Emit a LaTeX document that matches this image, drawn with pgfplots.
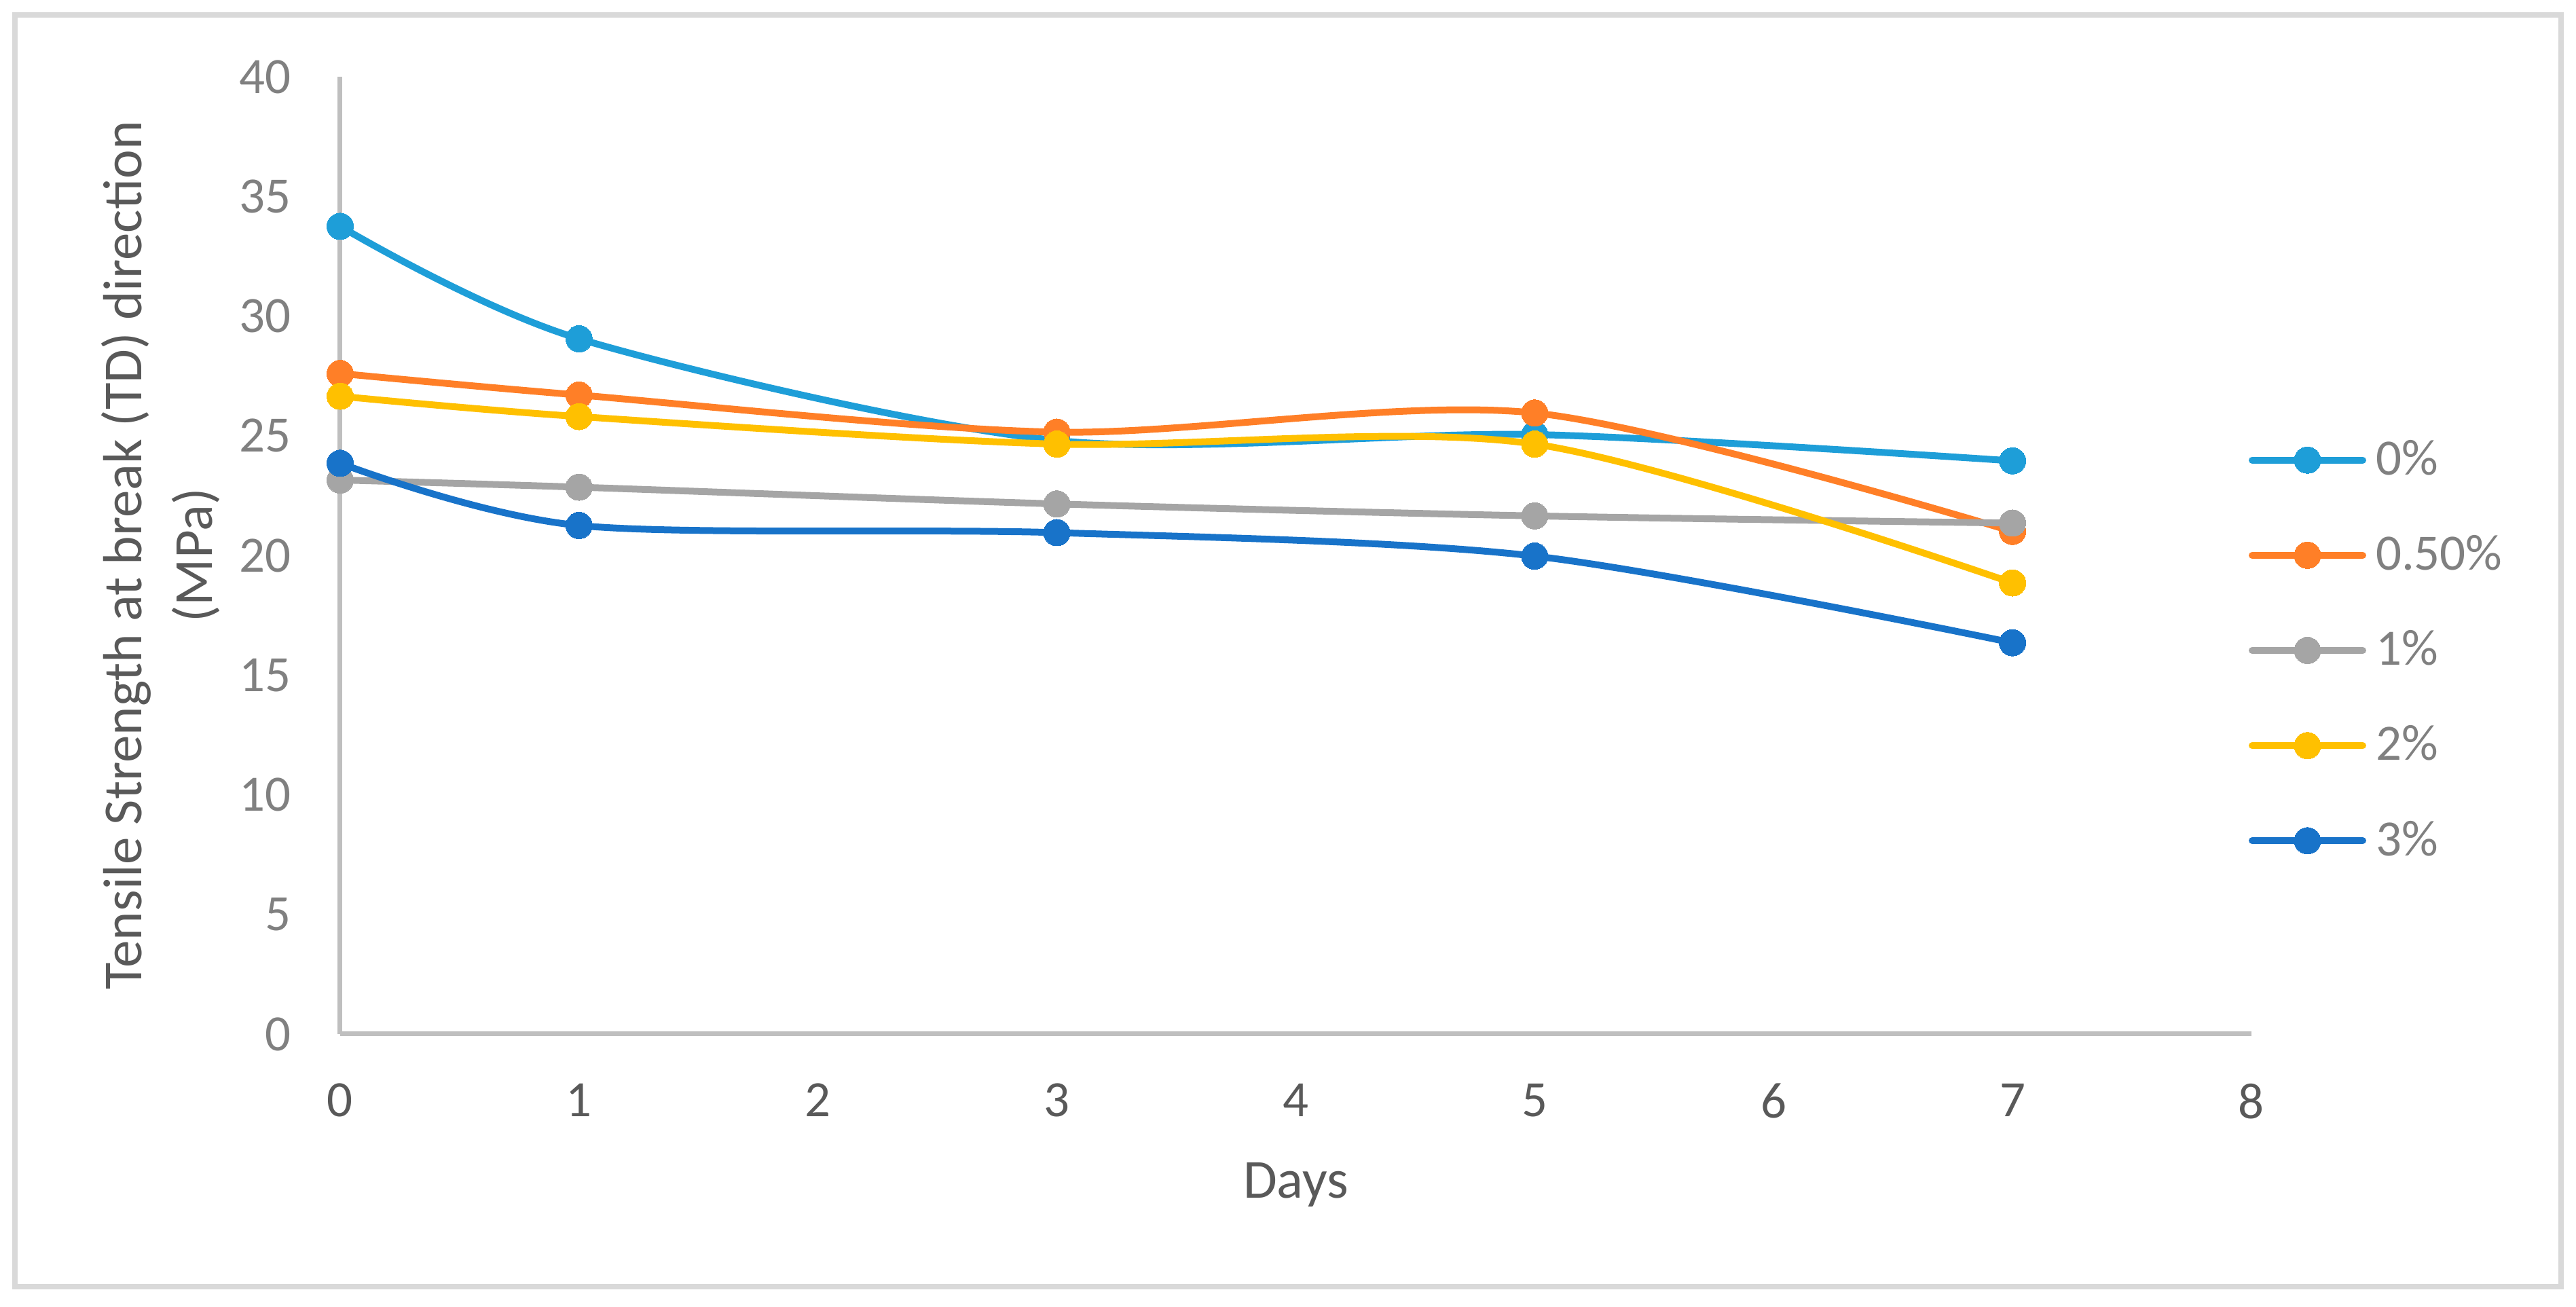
\documentclass[border=0pt]{standalone}
\usepackage{fontspec}
\setmainfont{Carlito}
\usepackage{pgfplots}
\pgfplotsset{compat=1.18}

\definecolor{czero}{RGB}{30,158,216}
\definecolor{chalf}{RGB}{255,127,39}
\definecolor{cone}{RGB}{165,165,165}
\definecolor{ctwo}{RGB}{255,192,0}
\definecolor{cthree}{RGB}{24,115,201}
\definecolor{axisgray}{RGB}{191,191,191}
\definecolor{framegray}{RGB}{217,217,217}
\definecolor{titlegray}{RGB}{89,89,89}
\definecolor{tickgray}{RGB}{128,128,128}

\begin{document}
\begin{tikzpicture}
\useasboundingbox (0,0) rectangle (758.8pt,385pt);
\draw[framegray, line width=1.5pt] (4.4pt,6pt) rectangle (754.4pt,380.6pt);
\begin{axis}[
  at={(100.2pt,80.4pt)}, anchor=south west,
  scale only axis, width=563pt, height=282pt,
  xmin=0, xmax=8, ymin=0, ymax=40,
  xtick={0,1,...,8}, ytick={0,5,...,40},
  axis x line=bottom, axis y line=left,
  axis line style={-, draw=axisgray, line width=1.4pt},
  major tick length=0pt, tick style={draw=none},
  /pgf/number format/assume math mode=true,
  yticklabel style={font=\fontsize{15}{18}\selectfont, text=tickgray,
    anchor=east, inner sep=0pt, xshift=-14.2pt},
  xticklabel style={font=\fontsize{15}{18}\selectfont, text=titlegray,
    anchor=north, inner sep=0pt, yshift=-14.4pt},
  xlabel={Days},
  xlabel style={at={(axis description cs:0.5,-0.1716)}, anchor=base,
    inner sep=0pt, font=\fontsize{16.2}{20}\selectfont, text=titlegray},
  ylabel={Tensile Strength at break (TD) direction\\(MPa)},
  ylabel style={at={(axis description cs:-0.0938,0.5)}, anchor=center,
    align=center, inner sep=0pt, font=\fontsize{16.2}{20.8}\selectfont, text=titlegray},
  legend style={at={(axis description cs:0.9986,0.4007)}, anchor=west,
    draw=none, fill=none, inner sep=0pt, outer sep=0pt,
    row sep=16.3pt, column sep=2.8pt,
    font=\fontsize{15}{18}\selectfont, text=tickgray,
    nodes={inner sep=0pt}},
  legend cell align=left,
  legend image code/.code={
    \draw[mark repeat=2, mark phase=2] plot coordinates {(1pt,0pt) (17.3pt,0pt) (33.6pt,0pt)};
  },
  every axis plot/.append style={smooth, line width=2pt, line cap=round, line join=round,
    mark=*, mark size=3.9pt},
]

\addplot[czero, mark options={fill=czero, draw=czero, line width=0pt}] coordinates {
  (0,33.75) (1,29.05) (3,24.8) (5,25.05) (7,23.95)
};
\addlegendentry{0\%}

\addplot[chalf, mark options={fill=chalf, draw=chalf, line width=0pt}] coordinates {
  (0,27.6) (1,26.7) (3,25.15) (5,25.95) (7,21.0)
};
\addlegendentry{0.50\%}

\addplot[cone, mark options={fill=cone, draw=cone, line width=0pt}] coordinates {
  (0,23.15) (1,22.85) (3,22.15) (5,21.65) (7,21.35)
};
\addlegendentry{1\%}

\addplot[ctwo, mark options={fill=ctwo, draw=ctwo, line width=0pt}] coordinates {
  (0,26.65) (1,25.8) (3,24.65) (5,24.65) (7,18.85)
};
\addlegendentry{2\%}

\addplot[cthree, mark options={fill=cthree, draw=cthree, line width=0pt}] coordinates {
  (0,23.85) (1,21.25) (3,20.95) (5,19.97) (7,16.35)
};
\addlegendentry{3\%}

\end{axis}
\end{tikzpicture}
\end{document}
